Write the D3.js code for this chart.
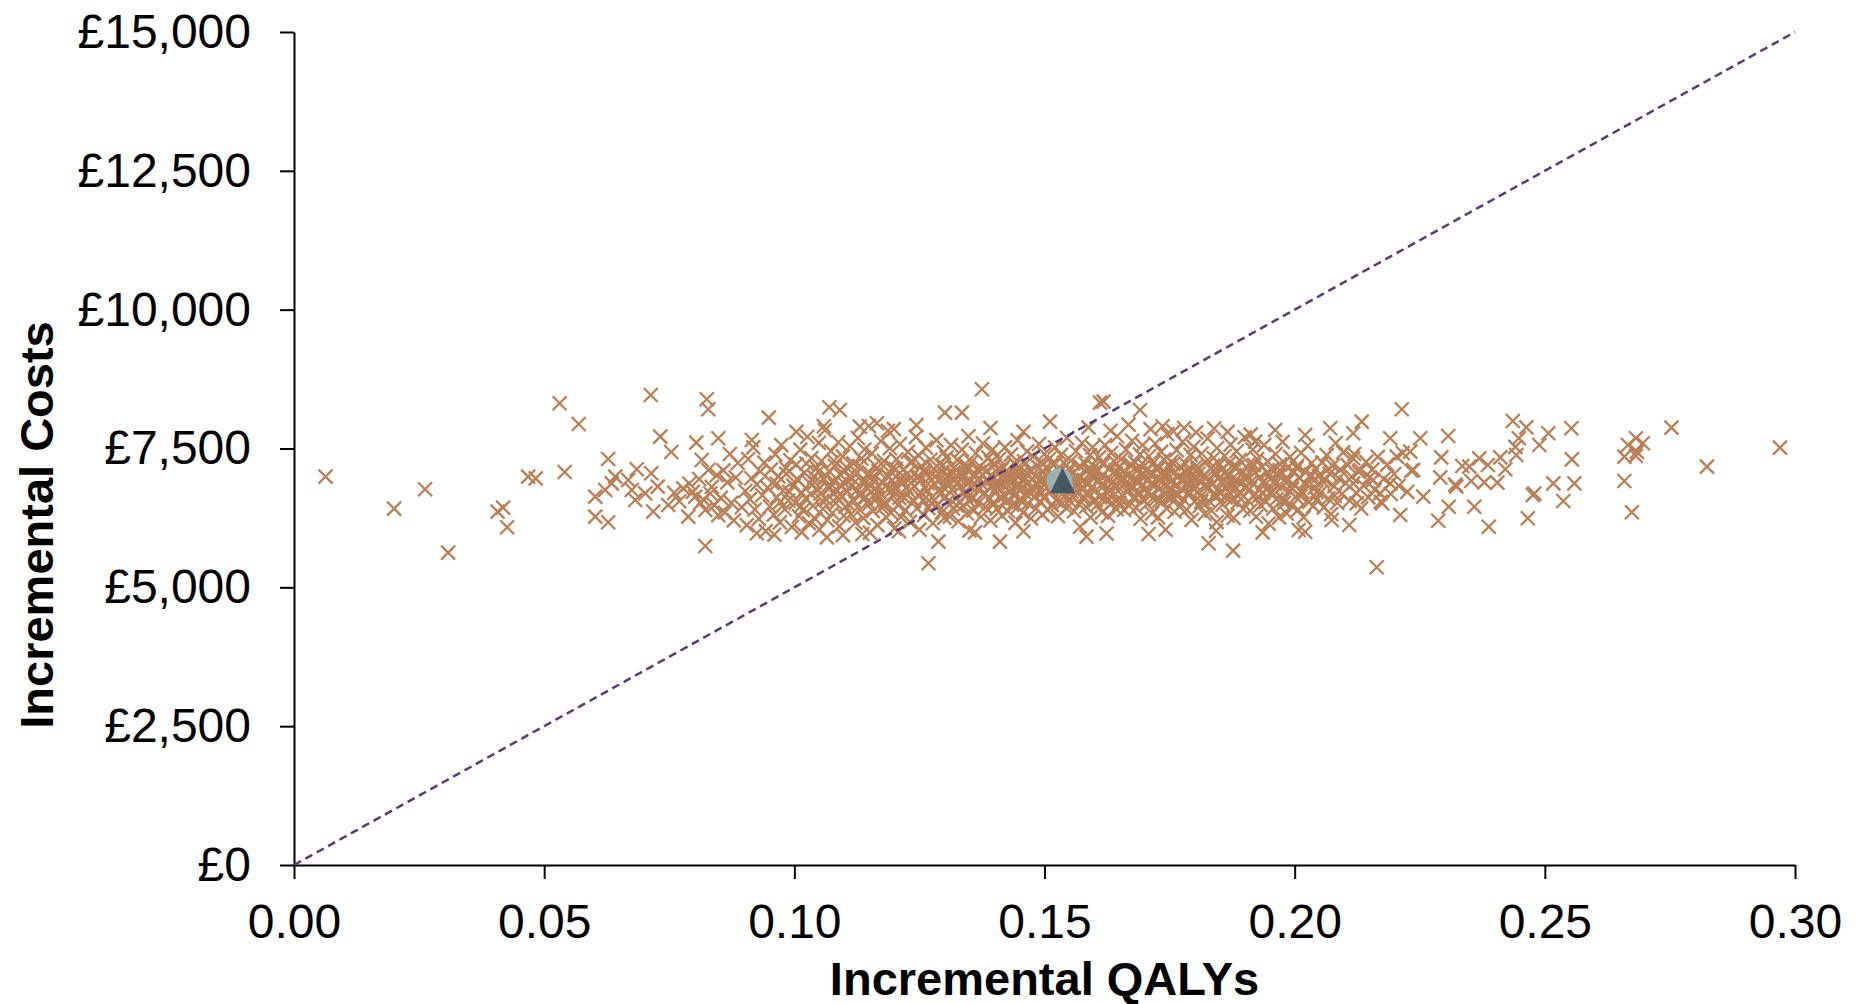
<!DOCTYPE html>
<html>
<head>
<meta charset="utf-8">
<script src="https://cdn.jsdelivr.net/npm/d3@7"></script>
<style>
  body { margin: 0; background: #fff; }
  svg { display: block; }
</style>
</head>
<body>
<div id="container"></div>
<script>
// cost-effectiveness plane: PSA cloud, WTP threshold line, mean points

const xTicks = [0, 0.05, 0.10, 0.15, 0.20, 0.25, 0.30]
const yTicks = [0, 2500, 5000, 7500, 10000, 12500, 15000]

// threshold line (0,0) -> (0.30, 15000)
const wtpLine = [[0, 0], [0.30, 15000]]

// probabilistic mean / deterministic point
const meanProb = [0.1530, 6915]
const meanDet = [0.1536, 6920]

// [incremental QALYs, incremental cost]
const tailLeft = [
  [0.0063,6993],[0.0200,6417],[0.0262,6766],[0.0308,5624],[0.0407,6363],[0.0418,6435],[0.0426,6081],
  [0.0468,6993],[0.0483,6963],[0.0531,8314],[0.0569,7942],[0.0541,7077],[0.0713,8464],[0.0628,7311],
  [0.0732,7713],[0.0754,7437],[0.0804,7605],[0.0825,8386],[0.0828,8206],[0.0822,5745],[0.0642,6993],
  [0.0685,7126],[0.0714,7054],[0.0602,6633],[0.0622,6753],[0.0635,6873],[0.0602,6273],[0.0628,6171],
  [0.0668,6933],[0.0675,6753],[0.0682,6573],[0.0702,6693],[0.0727,6813],[0.0718,6363],[0.0748,6483],
  [0.0778,6783],[0.0788,6273],[0.0802,6633],[0.0815,7293],[0.0828,7113],[0.0822,6393],[0.0790,6870],
  [0.0797,6720],[0.0810,6950],[0.0818,6580],[0.0835,6810],[0.0840,6480],[0.0845,7020],[0.0848,6300],
  [0.0832,6690],[0.0812,6520],[0.0760,6700],[0.0770,6550]
]

const cloudCore = [
  [0.0853,6612],[0.0858,7105],[0.0861,6348],[0.0866,6890],[0.0871,7402],[0.0874,6521],[0.0879,6205],[0.0883,6977],[0.0887,7238],[0.0895,6442],
  [0.0902,6735],[0.0905,6120],[0.0908,7310],[0.0911,6588],[0.0914,6964],[0.0918,7520],[0.0921,6402],[0.0925,6851],[0.0929,6233],[0.0932,7088],[0.0936,6659],[0.0940,7245],[0.0943,6012],[0.0947,6790],
  [0.0951,6455],[0.0953,7120],[0.0956,6880],[0.0959,6310],[0.0962,7395],[0.0965,6622],[0.0968,6998],[0.0971,6170],[0.0974,7560],[0.0977,6740],[0.0981,6405],[0.0984,7042],[0.0988,6563],[0.0992,7288],[0.0995,6089],[0.0998,6832],
  [0.1002,6520],[0.1004,7210],[0.1007,6935],[0.1009,6280],[0.1012,7480],[0.1015,6705],[0.1017,6390],[0.1020,7063],[0.1023,6602],[0.1026,7711],[0.1029,6156],[0.1031,6874],[0.1034,7330],[0.1037,6467],[0.1040,6990],[0.1042,6230],[0.1045,7148],[0.1047,6755],[0.1049,7602],[0.1050,6041],
  [0.1052,6690],[0.1054,7275],[0.1057,6415],[0.1059,6958],[0.1061,7829],[0.1064,6575],[0.1066,6210],[0.1069,7093],[0.1071,6802],[0.1073,7452],[0.1076,6338],[0.1078,6917],[0.1081,7187],[0.1083,6513],[0.1086,6744],[0.1088,7612],[0.1090,6098],[0.1093,7019],[0.1095,6641],[0.1097,7358],[0.1099,6289],[0.1100,6866],
  [0.1102,6450],[0.1104,7166],[0.1106,6728],[0.1109,6992],[0.1111,7540],[0.1113,6314],[0.1115,6847],[0.1118,7233],[0.1120,6555],[0.1122,6163],[0.1125,7065],[0.1127,7690],[0.1129,6680],[0.1131,6398],[0.1134,7318],[0.1136,6905],[0.1138,6247],[0.1140,7481],[0.1143,6619],[0.1145,7027],[0.1147,6772],[0.1149,7905],[0.1150,6506],[0.1151,5985],
  [0.1152,6830],[0.1155,7412],[0.1157,6372],[0.1159,6955],[0.1161,7198],[0.1164,6592],[0.1166,6121],[0.1168,7090],[0.1170,6710],[0.1173,7630],[0.1175,6436],[0.1177,6883],[0.1179,7275],[0.1182,6530],[0.1184,6257],[0.1186,7012],[0.1188,6768],[0.1191,7505],[0.1193,6345],[0.1195,6921],[0.1197,7156],[0.1198,6645],[0.1199,7850],[0.1200,6060],
  [0.1202,6790],[0.1204,7305],[0.1207,6485],[0.1209,6940],[0.1211,7580],[0.1213,6265],[0.1216,6868],[0.1218,7121],[0.1220,6612],[0.1222,6390],[0.1225,7046],[0.1227,7440],[0.1229,6730],[0.1231,6178],[0.1234,6985],[0.1236,7262],[0.1238,6548],[0.1240,6820],[0.1243,7710],[0.1245,6420],[0.1247,7008],[0.1248,6665],[0.1249,7370],[0.1250,6040],
  [0.1252,6915],[0.1254,7185],[0.1257,6565],[0.1259,6302],[0.1261,7060],[0.1263,7515],[0.1266,6745],[0.1268,6428],[0.1270,6979],[0.1272,7297],[0.1275,6620],[0.1277,6155],[0.1279,7133],[0.1281,6853],[0.1284,7650],[0.1286,6495],[0.1288,6931],[0.1290,7225],[0.1293,6690],[0.1295,6355],[0.1296,7080],[0.1298,6802],[0.1299,7430],[0.1300,6250],
  [0.1302,6880],[0.1304,7340],[0.1306,6540],[0.1308,7010],[0.1311,6275],[0.1313,7560],[0.1315,6760],[0.1317,6420],[0.1319,7150],[0.1322,6945],[0.1324,6605],[0.1326,7290],[0.1328,6190],[0.1330,7068],[0.1333,6830],[0.1335,7480],[0.1337,6470],[0.1339,6992],[0.1341,7215],[0.1343,6655],[0.1345,6330],[0.1346,7105],[0.1347,6870],[0.1348,7720],[0.1349,6560],[0.1350,6025],
  [0.1352,6925],[0.1354,7260],[0.1356,6630],[0.1358,6380],[0.1360,7040],[0.1363,7415],[0.1365,6785],[0.1367,6510],[0.1369,6968],[0.1371,7178],[0.1373,6270],[0.1375,6855],[0.1377,7590],[0.1380,6700],[0.1382,6445],[0.1384,7092],[0.1386,6910],[0.1388,7335],[0.1390,6590],[0.1392,6205],[0.1394,7020],[0.1395,6812],[0.1396,7480],[0.1397,6480],[0.1398,6950],[0.1400,7200],
  [0.1401,6740],[0.1403,7090],[0.1405,6415],[0.1407,6880],[0.1409,7310],[0.1411,6610],[0.1413,6985],[0.1415,6290],[0.1417,7170],[0.1419,6820],[0.1421,7520],[0.1423,6540],[0.1425,6935],[0.1427,6370],[0.1429,7055],[0.1431,6725],[0.1433,7390],[0.1435,6485],[0.1437,6905],[0.1439,7240],[0.1441,6650],[0.1442,6160],[0.1444,7010],[0.1445,6790],[0.1446,7650],[0.1447,6455],[0.1448,6870],[0.1450,7125],
  [0.1451,6590],[0.1453,7035],[0.1455,6810],[0.1457,6345],[0.1459,7270],[0.1461,6955],[0.1463,6680],[0.1465,7445],[0.1467,6510],[0.1469,6890],[0.1471,7115],[0.1473,6240],[0.1475,6770],[0.1477,7360],[0.1479,6625],[0.1481,7000],[0.1483,6420],[0.1485,7190],[0.1487,6860],[0.1489,7580],[0.1491,6550],[0.1492,6935],[0.1494,7255],[0.1495,6700],[0.1496,6310],[0.1497,7080],[0.1499,6845],[0.1500,7400],
  [0.1501,6620],[0.1503,7160],[0.1505,6900],[0.1507,6390],[0.1509,7310],[0.1511,6745],[0.1513,7020],[0.1515,6480],[0.1517,7205],[0.1519,6850],[0.1521,7520],[0.1523,6570],[0.1525,6960],[0.1527,6280],[0.1529,7095],[0.1531,6720],[0.1533,7385],[0.1535,6515],[0.1537,6880],[0.1539,7245],[0.1541,6655],[0.1543,7040],[0.1544,6430],[0.1545,7690],[0.1546,6800],[0.1547,6995],[0.1549,7140],[0.1550,6560],
  [0.1551,6920],[0.1553,7280],[0.1555,6640],[0.1557,7055],[0.1559,6370],[0.1561,6845],[0.1563,7450],[0.1565,6705],[0.1567,6990],[0.1569,6495],[0.1571,7185],[0.1573,6780],[0.1575,7600],[0.1577,6590],[0.1579,6935],[0.1581,7230],[0.1583,6450],[0.1585,6870],[0.1587,7110],[0.1589,6690],[0.1591,7380],[0.1592,6260],[0.1594,7010],[0.1595,6815],[0.1596,7520],[0.1597,6550],[0.1599,6960],[0.1600,7170],
  [0.1601,6735],[0.1603,7065],[0.1605,6480],[0.1607,6905],[0.1609,7340],[0.1611,6625],[0.1613,7000],[0.1615,6350],[0.1617,7215],[0.1619,6830],[0.1621,7560],[0.1623,6570],[0.1625,6950],[0.1627,6290],[0.1629,7130],[0.1631,6760],[0.1633,7420],[0.1635,6520],[0.1637,6890],[0.1639,7275],[0.1641,6680],[0.1643,7045],[0.1644,6405],[0.1645,7720],[0.1646,6820],[0.1647,7005],[0.1649,7160],[0.1650,6600],
  [0.1651,6940],[0.1653,7305],[0.1655,6660],[0.1657,7080],[0.1659,6395],[0.1661,6860],[0.1663,7480],[0.1665,6725],[0.1667,7015],[0.1669,6470],[0.1671,7200],[0.1673,6795],[0.1675,7640],[0.1677,6610],[0.1679,6955],[0.1681,7250],[0.1683,6430],[0.1685,6885],[0.1687,7125],[0.1689,6710],[0.1691,7395],[0.1692,6235],[0.1694,7030],[0.1695,6840],[0.1696,7560],[0.1697,6580],[0.1699,6975],[0.1700,7190],
  [0.1701,6760],[0.1703,7090],[0.1705,6500],[0.1707,6925],[0.1709,7360],[0.1711,6645],[0.1713,7025],[0.1715,6330],[0.1717,7240],[0.1719,6850],[0.1721,7590],[0.1723,6590],[0.1725,6970],[0.1727,6260],[0.1729,7150],[0.1731,6780],[0.1733,7440],[0.1735,6540],[0.1737,6910],[0.1739,7300],[0.1741,6700],[0.1743,7060],[0.1744,6420],[0.1745,7760],[0.1746,6835],[0.1747,7020],[0.1749,7180],[0.1750,6620],
  [0.1752,6900],[0.1754,7265],[0.1756,6630],[0.1758,7045],[0.1760,6360],[0.1762,6830],[0.1764,7470],[0.1766,6690],[0.1768,6995],[0.1770,6455],[0.1772,7175],[0.1774,6770],[0.1776,7620],[0.1778,6580],[0.1780,6940],[0.1782,7225],[0.1784,6400],[0.1786,6865],[0.1788,7105],[0.1790,6675],[0.1792,7385],[0.1794,6215],[0.1795,7000],[0.1796,6805],[0.1798,7530],[0.1800,6545],
  [0.1802,6985],[0.1804,7190],[0.1806,6715],[0.1808,7050],[0.1810,6465],[0.1812,6895],[0.1814,7410],[0.1816,6600],[0.1818,7005],[0.1820,6320],[0.1822,7255],[0.1824,6820],[0.1826,7680],[0.1828,6560],[0.1830,6930],[0.1832,7140],[0.1834,6380],[0.1836,6870],[0.1838,7330],[0.1840,6650],[0.1842,7070],[0.1844,6175],[0.1845,7510],[0.1846,6760],[0.1848,6960],[0.1850,7215],
  [0.1852,6690],[0.1854,7120],[0.1856,6490],[0.1858,6935],[0.1860,7365],[0.1862,6620],[0.1864,7010],[0.1866,6290],[0.1868,7230],[0.1870,6840],[0.1872,7570],[0.1874,6575],[0.1876,6960],[0.1878,6250],[0.1880,7160],[0.1882,6770],[0.1884,7450],[0.1886,6530],[0.1888,6900],[0.1890,7290],[0.1892,6690],[0.1895,7050],[0.1897,6410],[0.1900,7700],
  [0.1902,6820],[0.1904,7020],[0.1907,6560],[0.1909,7230],[0.1911,6380],[0.1914,6910],[0.1916,7480],[0.1918,6640],[0.1921,7065],[0.1923,6270],[0.1925,7310],[0.1928,6760],[0.1930,6980],[0.1932,6480],[0.1935,7170],[0.1937,6700],[0.1939,7560],[0.1942,6540],[0.1944,6880],[0.1946,7265],[0.1948,6150],[0.1950,7015],
  [0.1952,6680],[0.1954,7120],[0.1957,6420],[0.1959,6905],[0.1962,7400],[0.1964,6590],[0.1967,7030],[0.1969,6260],[0.1971,7215],[0.1974,6810],[0.1976,7620],[0.1979,6520],[0.1981,6950],[0.1984,6330],[0.1986,7150],[0.1989,6740],[0.1991,7350],[0.1994,6470],[0.1996,6870],[0.1999,7080],
  [0.2002,6630],[0.2005,7190],[0.2007,6400],[0.2010,6960],[0.2013,7420],[0.2015,6720],[0.2018,6260],[0.2021,7080],[0.2023,6850],[0.2026,7550],[0.2029,6540],[0.2031,6990],[0.2034,7240],[0.2037,6460],[0.2040,6800],[0.2042,7130],[0.2045,6590],[0.2048,7010],
  [0.2052,6710],[0.2055,7250],[0.2058,6440],[0.2061,6940],[0.2064,7380],[0.2067,6600],[0.2070,7050],[0.2073,6320],[0.2076,7190],[0.2079,6820],[0.2082,7600],[0.2085,6520],[0.2088,6960],[0.2091,7120],[0.2094,6680],[0.2097,7430],
  [0.2102,6880],[0.2106,7200],[0.2110,6560],[0.2114,6990],[0.2119,7400],[0.2123,6700],[0.2128,7080],[0.2133,6420],[0.2138,6830],[0.2143,7260],[0.2147,6620],[0.2150,6980],
  [0.2155,7120],[0.2160,6760],[0.2166,7350],[0.2172,6540],[0.2178,6950],[0.2185,7210],[0.2192,6680],[0.2199,7040],[0.2208,6830],[0.2216,7420],[0.2225,6720],[0.2233,7100]
]

// densest part of the band
const cloudInner = [
  [0.0965,6870],[0.0972,6540],[0.0983,7150],[0.0990,6720],[0.1005,6950],[0.1013,6460],[0.1024,7230],[0.1033,6680],[0.1041,6890],[0.1048,7080],
  [0.1056,6560],[0.1063,7010],[0.1070,6780],[0.1079,7280],[0.1085,6620],[0.1092,6840],[0.1101,7100],[0.1108,6500],[0.1116,6960],[0.1123,6730],
  [0.1130,7190],[0.1137,6590],[0.1144,6900],[0.1153,7040],[0.1160,6670],[0.1167,6830],[0.1174,7220],[0.1181,6480],[0.1189,6990],[0.1196,6760],
  [0.1203,7130],[0.1210,6610],[0.1217,6920],[0.1224,6800],[0.1232,7250],[0.1239,6560],[0.1246,6970],[0.1253,6700],[0.1260,7110],[0.1267,6870],
  [0.1274,6520],[0.1282,7000],[0.1289,6750],[0.1297,7200],[0.1303,6630],[0.1310,6880],[0.1318,7060],[0.1325,6470],[0.1332,6940],[0.1340,6710],
  [0.1347,7170],[0.1355,6590],[0.1362,6860],[0.1370,7080],[0.1378,6680],[0.1385,6950],[0.1393,7260],[0.1399,6530],[0.1406,6820],[0.1414,7120],
  [0.1420,6650],[0.1428,6990],[0.1436,6760],[0.1443,7210],[0.1452,6560],[0.1458,6920],[0.1466,7050],[0.1474,6700],[0.1482,6870],[0.1490,7150],
  [0.1498,6610],[0.1506,6980],[0.1514,6780],[0.1522,7230],[0.1530,6540],[0.1538,6900],[0.1546,7060],[0.1554,6720],[0.1562,6940],[0.1570,7180],
  [0.1578,6640],[0.1586,6850],[0.1593,7070],[0.1602,6570],[0.1610,6930],[0.1618,7240],[0.1626,6690],[0.1634,6880],[0.1642,7110],[0.1650,6520],
  [0.1658,6970],[0.1666,6780],[0.1674,7200],[0.1682,6620],[0.1690,6910],[0.1698,7050],[0.1706,6700],[0.1714,6860],[0.1722,7150],[0.1730,6560],
  [0.1738,6990],[0.1748,6760],[0.1757,7220],[0.1765,6640],[0.1773,6930],[0.1781,7080],[0.1789,6720],[0.1797,6880],[0.1805,7130],[0.1813,6540],
  [0.1821,6960],[0.1829,6790],[0.1837,7190],[0.1845,6650],[0.1853,6900],[0.1861,7060],[0.1869,6710],[0.1877,6850],[0.1885,7160],[0.1893,6590],
  [0.1901,6940],[0.1910,6770],[0.1919,7200],[0.1927,6630],[0.1936,6890],[0.1945,7070],[0.1953,6720],[0.1961,6860],[0.1970,7110],[0.1978,6580],
  [0.1987,6930],[0.1995,6770],[0.2004,7150],[0.2012,6640],[0.2020,6880],[0.2033,7030],[0.2044,6720],[0.2056,6910],[0.2068,7140],[0.2080,6650]
]

// scattered marks along the upper and lower rim of the band
const cloudRim = [
  [0.1588,7880],[0.1632,7820],[0.1668,7930],[0.1712,7850],[0.1736,7900],[0.1758,7810],[0.1779,7870],[0.1803,7790],
  [0.1839,7860],[0.1866,7800],[0.1912,7750],[0.1458,7800],[0.1392,7870],[0.1244,7920],[0.1187,7820],[0.1059,7900],
  [0.1004,7800],[0.1097,5940],[0.1136,5960],[0.1209,6010],[0.1361,5990],[0.1458,6010],[0.1624,5970],[0.1742,6040],
  [0.1843,6020],[0.1936,5990]
]

const cloudEdges = [
  [0.1375,8566],[0.0949,8055],[0.1070,8242],[0.1091,8194],[0.1301,8146],[0.1335,8146],[0.1611,8326],
  [0.1268,5433],[0.1411,5822],[0.1288,5822],[0.0925,5973],[0.0848,7684],[0.0915,7653],[0.1131,7893],
  [0.1165,7954],[0.1511,7983],[0.1584,5912],[0.1571,6092],[0.0960,5950],[0.1015,5990],[0.1065,5900],
  [0.2214,8206],[0.2134,7983],[0.2164,5361],[0.1877,5660],[0.1828,5793],[0.1708,5961],[0.1691,8194],
  [0.1618,8344],[0.2287,6200],[0.2211,6303],[0.2109,6123],[0.2074,6213],[0.2021,6002],[0.2008,6033],
  [0.2257,6633],[0.2251,7684],[0.2191,7684],[0.2204,7353],[0.2231,7443],[0.2237,7113],[0.2191,6873],
  [0.2157,6933],[0.2171,6693],[0.2175,6513],[0.2124,6513],[0.2117,6873],[0.2131,7113],[0.2117,7323],
  [0.2117,7774],[0.2071,7864],[0.2021,7744],[0.1961,7834],[0.1921,7623]
]

const tailRight = [
  [0.2970,7515],[0.2824,7173],[0.2753,7875],[0.2674,6351],[0.2659,6915],[0.2659,7353],[0.2666,7564],
  [0.2682,7684],[0.2696,7594],[0.2682,7365],[0.2684,7440],[0.2553,7864],[0.2554,7305],[0.2559,6873],
  [0.2537,6555],[0.2517,6873],[0.2476,6663],[0.2479,6690],[0.2466,6243],[0.2507,7774],[0.2489,7564],
  [0.2463,7881],[0.2436,7996],[0.2448,7684],[0.2443,7383],[0.2441,7530],[0.2421,7126],[0.2411,7341],
  [0.2405,6885],[0.2386,7203],[0.2379,6891],[0.2369,7323],[0.2353,6915],[0.2349,7173],[0.2335,7185],
  [0.2323,6813],[0.2321,6850],[0.2307,7726],[0.2293,7341],[0.2291,6981],[0.2308,6452],[0.2359,6452],
  [0.2388,6092]
]

const w = 1856, h = 1004
const font = "'Liberation Sans', Arial, Helvetica, sans-serif"

const svg = d3.select("#container").append("svg").attr("width", w).attr("height", h).style("background", "#fff")

const x = d3.scaleLinear().domain([0, 0.30]).range([294, 1795])
const y = d3.scaleLinear().domain([0, 15000]).range([865, 32])

// axes
const yAxis = svg.append("g").attr("transform", `translate(${x(0)},0)`)
  .call(d3.axisLeft(y).tickValues(yTicks).tickSize(14).tickSizeOuter(0).tickPadding(29)
    .tickFormat(d => "£" + d3.format(",")(d)))
const xAxis = svg.append("g").attr("transform", `translate(0,${y(0)})`)
  .call(d3.axisBottom(x).tickValues(xTicks).tickSize(14).tickSizeOuter(0)
    .tickFormat(d3.format(".2f")))

for (const g of [xAxis, yAxis]) {
  g.selectAll("path, line").attr("stroke", "#000").attr("stroke-width", 2)
  g.selectAll("text").attr("fill", "#000").style("font-family", font).style("font-size", "48px")
}
xAxis.selectAll("text").attr("y", 73).attr("dy", 0)

// scatter
const allSims = tailLeft.concat(cloudCore, cloudInner, cloudRim, cloudEdges, tailRight)
svg.append("g").selectAll("path")
  .data(allSims)
  .enter()
  .append("path")
  .attr("transform", d => `translate(${x(d[0])},${y(d[1])})`)
  .attr("d", "M-7,-7L7,7M-7,7L7,-7")
  .attr("stroke", "#b97f57")
  .attr("stroke-width", 2.3)
  .attr("fill", "none")

// threshold line
svg.append("path")
  .datum(wtpLine)
  .attr("d", d3.line().x(d => x(d[0])).y(d => y(d[1])))
  .attr("stroke", "#5b3a70")
  .attr("stroke-width", 2.5)
  .attr("stroke-dasharray", "8,5")
  .attr("fill", "none")

// mean markers
svg.append("circle")
  .attr("cx", x(meanProb[0])).attr("cy", y(meanProb[1])).attr("r", 13)
  .attr("fill", "#9eb0b0")
svg.append("path")
  .attr("transform", `translate(${x(meanDet[0])},${y(meanDet[1])})`)
  .attr("d", "M0,-13L12.5,12.5L-12.5,12.5Z")
  .attr("fill", "#465866")

// axis titles
svg.append("text")
  .attr("x", (x(0) + x(0.30)) / 2).attr("y", 995)
  .attr("text-anchor", "middle")
  .style("font-family", font).style("font-size", "47px").style("font-weight", "bold")
  .text("Incremental QALYs")
svg.append("text")
  .attr("transform", "translate(53,525) rotate(-90)")
  .attr("text-anchor", "middle")
  .style("font-family", font).style("font-size", "47px").style("font-weight", "bold")
  .text("Incremental Costs")
</script>
</body>
</html>
